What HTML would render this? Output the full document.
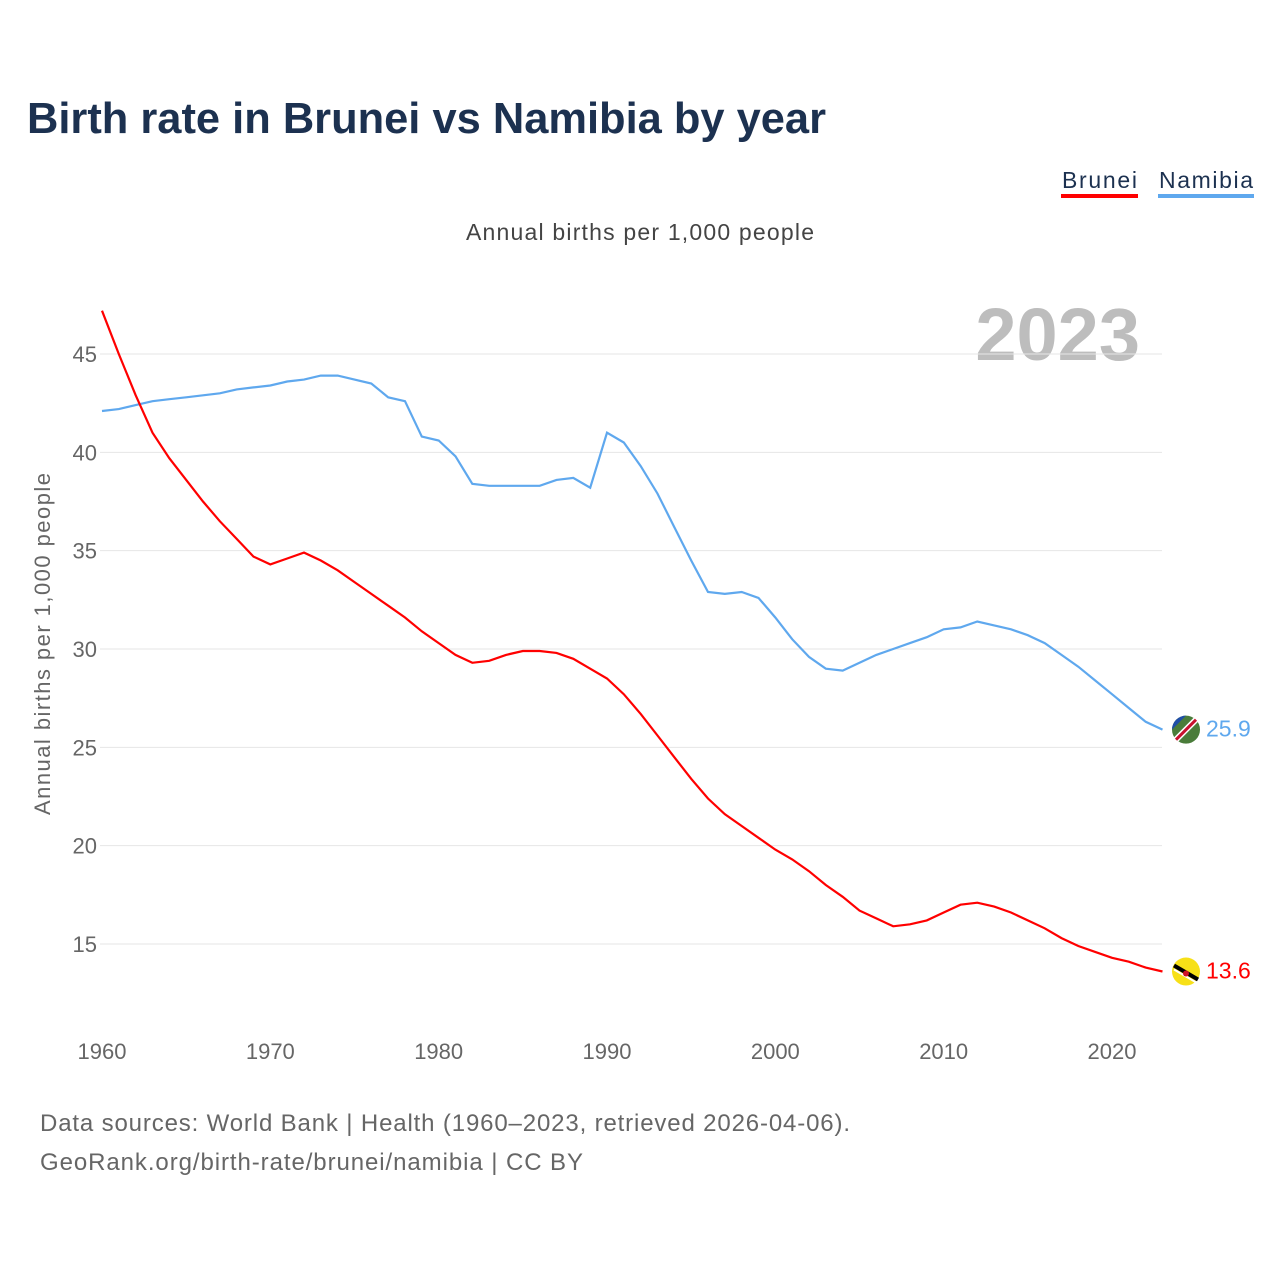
<!DOCTYPE html>
<html><head><meta charset="utf-8">
<style>
body{margin:0;background:#fff;font-family:"Liberation Sans",sans-serif;}
svg{display:block}
</style></head><body>
<svg width="1280" height="1280">
<text x="27" y="133" font-size="44" font-weight="bold" fill="#1c3150" textLength="799" lengthAdjust="spacingAndGlyphs">Birth rate in Brunei vs Namibia by year</text>
<g><text x="1062" y="188" font-size="23" fill="#1c3150" textLength="75">Brunei</text><rect x="1061" y="194" width="77" height="4" fill="#ff0000"/></g>
<g><text x="1159" y="188" font-size="23" fill="#1c3150" textLength="94">Namibia</text><rect x="1158" y="194" width="96" height="4" fill="#5fa8ee"/></g>
<text x="466" y="240" font-size="23" fill="#444" textLength="348">Annual births per 1,000 people</text>
<text x="1140" y="360" text-anchor="end" font-size="74" font-weight="bold" fill="#bdbdbd">2023</text>
<text transform="translate(50,815) rotate(-90)" font-size="22" fill="#666" textLength="342">Annual births per 1,000 people</text>
<g id="grid"></g><g id="lines"></g><g id="ends"></g>
<text x="40" y="1131" font-size="24" fill="#666" textLength="810">Data sources: World Bank | Health (1960–2023, retrieved 2026-04-06).</text>
<text x="40" y="1170" font-size="24" fill="#666" textLength="543">GeoRank.org/birth-rate/brunei/namibia | CC BY</text>
</svg>
<script>
const years=[];for(let y=1960;y<=2023;y++)years.push(y);
const brunei=[47.2,45.0,42.9,41.0,39.7,38.6,37.5,36.5,35.6,34.7,34.3,34.6,34.9,34.5,34.0,33.4,32.8,32.2,31.6,30.9,30.3,29.7,29.3,29.4,29.7,29.9,29.9,29.8,29.5,29.0,28.5,27.7,26.7,25.6,24.5,23.4,22.4,21.6,21.0,20.4,19.8,19.3,18.7,18.0,17.4,16.7,16.3,15.9,16.0,16.2,16.6,17.0,17.1,16.9,16.6,16.2,15.8,15.3,14.9,14.6,14.3,14.1,13.8,13.6];
const namibia=[42.1,42.2,42.4,42.6,42.7,42.8,42.9,43.0,43.2,43.3,43.4,43.6,43.7,43.9,43.9,43.7,43.5,42.8,42.6,40.8,40.6,39.8,38.4,38.3,38.3,38.3,38.3,38.6,38.7,38.2,41.0,40.5,39.3,37.9,36.2,34.5,32.9,32.8,32.9,32.6,31.6,30.5,29.6,29.0,28.9,29.3,29.7,30.0,30.3,30.6,31.0,31.1,31.4,31.2,31.0,30.7,30.3,29.7,29.1,28.4,27.7,27.0,26.3,25.9];
const yTicks=[15,20,25,30,35,40,45];
const xTicks=[1960,1970,1980,1990,2000,2010,2020];
const X=y=>102+(y-1960)*(1112-102)/60;
const Y=v=>944-(v-15)*(590/30);
const ns="http://www.w3.org/2000/svg";
function mk(t,a,p){const e=document.createElementNS(ns,t);for(const k in a)e.setAttribute(k,a[k]);p.appendChild(e);return e;}
const grid=document.getElementById('grid');
yTicks.forEach(v=>{
 const l=mk('line',{x1:100,x2:1162,y1:Y(v),y2:Y(v),stroke:'#e6e6e6','stroke-width':1},grid);
 
 
 const t=mk('text',{x:97,y:Y(v)+8,'text-anchor':'end','font-size':22,fill:'#666'},grid);t.textContent=v;
 
 
});
xTicks.forEach(v=>{
 const t=mk('text',{x:X(v),y:1059,'text-anchor':'middle','font-size':22,fill:'#666'},grid);t.textContent=v;
 
 
});
const lines=document.getElementById('lines'),ends=document.getElementById('ends');
[[namibia,'#5fa8ee','namibia'],[brunei,'#ff0000','brunei']].forEach(([d,c,n])=>{
 const p=mk('path',{d:d.map((v,i)=>(i?'L':'M')+X(years[i]).toFixed(1)+','+Y(v).toFixed(1)).join(''),fill:'none',stroke:c,'stroke-width':2.2},lines);
 
 
 const last=d[d.length-1],cy=Y(last);
 const f=mk('circle',{cx:1186,cy:cy,r:14,fill:n=='brunei'?'#f7e017':'#4a7c3a'},ends);
 
 
 if(n=='namibia'){mk('path',{d:`M1172,${cy} A14,14 0 0 1 1186,${cy-14} L1172,${cy}Z`,fill:'#1f4ea8'},ends);mk('line',{x1:1176,y1:cy+10,x2:1196,y2:cy-10,stroke:'#fff','stroke-width':6},ends);mk('line',{x1:1176,y1:cy+10,x2:1196,y2:cy-10,stroke:'#c8102e','stroke-width':3},ends);}
 else{mk('line',{x1:1174,y1:cy-6,x2:1198,y2:cy+8,stroke:'#000','stroke-width':4},ends);mk('line',{x1:1174,y1:cy-2,x2:1198,y2:cy+12,stroke:'#fff','stroke-width':2},ends);mk('circle',{cx:1186,cy:cy+2,r:3,fill:'#cf1126'},ends);}
 const t=mk('text',{x:1206,y:cy+7,'font-size':23,fill:c},ends);t.textContent=last.toFixed(1);
 
 
});
</script>
</body></html>
